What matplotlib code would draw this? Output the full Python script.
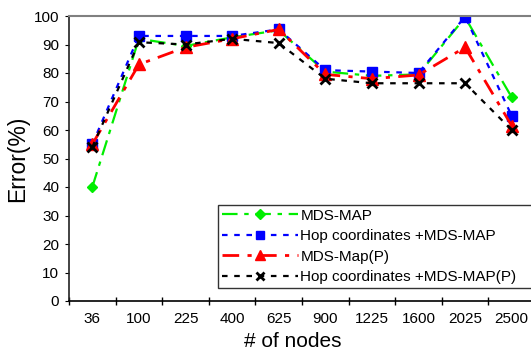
import matplotlib
matplotlib.use("Agg")
import matplotlib.pyplot as plt
from matplotlib.ticker import FixedLocator

plt.rcParams["font.family"] = ["Liberation Sans", "DejaVu Sans"]

nodes = ["36", "100", "225", "400", "625", "900", "1225", "1600", "2025", "2500"]
mds_map = [40, 92, 89.5, 92.5, 95, 80.5, 79, 79.5, 99.5, 71.5]
hop_mds_map = [55, 93, 93, 93, 95.3, 81, 80.5, 80, 99.8, 65]
mds_map_p = [55, 83, 89, 92, 95.3, 79.5, 78, 79.3, 89, 61.5]
hop_mds_map_p = [54, 90.8, 90, 92, 90.5, 78, 76.4, 76.4, 76.4, 60]


def main():
    fig = plt.figure(figsize=(5.31, 3.52), dpi=100)
    ax = fig.add_axes([69 / 531, 1 - 301 / 352, 466 / 531, 285 / 352])
    x = list(range(len(nodes)))

    ax.plot(x, mds_map, color="#00ee00", lw=1.6, dashes=(7, 3, 2, 3),
            marker="D", ms=5.5, label="MDS-MAP")
    ax.plot(x, hop_mds_map, color="#0000ff", lw=1.6, dashes=(2.5, 3),
            marker="s", ms=6.5, label="Hop coordinates +MDS-MAP")
    ax.plot(x, mds_map_p, color="#ff0000", lw=2.0, dashes=(6, 3, 1.5, 3),
            marker="^", ms=8, label="MDS-Map(P)")
    ax.plot(x, hop_mds_map_p, color="black", lw=1.6, dashes=(2.5, 3),
            marker="x", ms=7, mew=2, label="Hop coordinates +MDS-MAP(P)")

    ax.set_xlim(-0.5, len(nodes) - 0.5)
    ax.set_ylim(0, 100)
    ax.set_yticks(range(0, 101, 10))
    ax.set_xticks(x)
    ax.set_xticklabels(nodes)
    ax.xaxis.set_minor_locator(FixedLocator([i + 0.5 for i in range(-1, len(nodes))]))
    ax.tick_params(axis="x", which="major", length=0, pad=8, labelsize=11)
    ax.tick_params(axis="x", which="minor", direction="inout", length=6, width=1)
    ax.tick_params(axis="y", direction="out", length=3, pad=4, labelsize=11)

    ax.spines["top"].set_color("#808080")
    ax.spines["top"].set_linewidth(1.5)
    ax.spines["right"].set_visible(False)
    ax.spines["left"].set_color("#222222")
    ax.spines["left"].set_linewidth(1.2)
    ax.spines["bottom"].set_linewidth(1.2)

    ax.set_ylabel("Error(%)", fontsize=16.5)
    ax.set_xlabel("# of nodes", fontsize=15, labelpad=2)
    ax.yaxis.set_label_coords(-0.085, 0.5)
    ax.xaxis.set_label_coords(0.48, -0.11)

    leg = fig.legend(loc="upper left",
                     bbox_to_anchor=(218 / 531, 1 - 286 / 352, 320 / 531, 81 / 352),
                     mode="expand", fontsize=11, handlelength=5.0, labelspacing=0.42,
                     borderpad=0.25, handletextpad=0.15, frameon=True, fancybox=False,
                     borderaxespad=0, markerscale=0.9)
    leg.get_frame().set_edgecolor("black")
    leg.get_frame().set_linewidth(1.0)

    fig.savefig("out.png", dpi=100)


if __name__ == "__main__":
    main()
